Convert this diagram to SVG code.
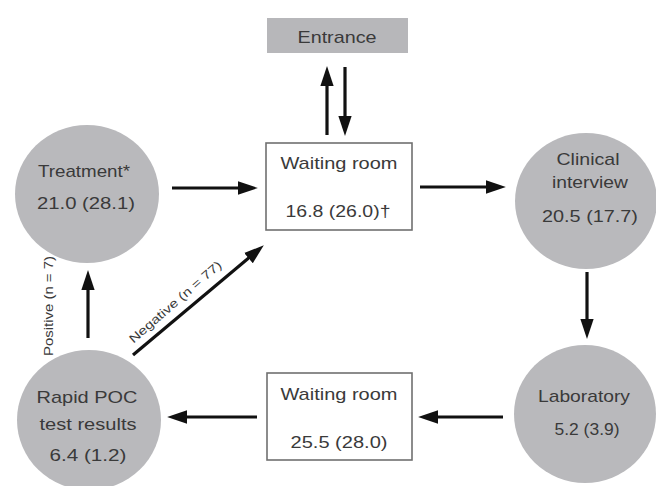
<svg xmlns="http://www.w3.org/2000/svg" width="656" height="486" viewBox="0 0 656 486">
<style>
.node-c{fill:#b9b9bc;stroke:none}
.box{fill:#ffffff;stroke:#707070;stroke-width:1.6}
.ent{fill:#b7b7ba;stroke:none}
.t{font-family:"Liberation Sans",Arial,sans-serif;font-size:17px;fill:#3a3a3a;text-anchor:middle}
.lbl{font-family:"Liberation Sans",Arial,sans-serif;font-size:12px;fill:#3a3a3a;text-anchor:middle}
.arr{stroke:#111;stroke-width:3.2;fill:none;marker-end:url(#ah)}
</style>
<defs>
<marker id="ah" markerUnits="userSpaceOnUse" markerWidth="20" markerHeight="14" viewBox="0 0 18 12" refX="10" refY="6" orient="auto">
<path d="M0,0 L18,6 L0,12 z" fill="#111"/>
</marker>
</defs>
<rect width="656" height="486" fill="#ffffff"/>

<g id="labels">
<text class="lbl" transform="translate(53,306) rotate(-90)" textLength="100" lengthAdjust="spacingAndGlyphs">Positive (n = 7)</text>
<text class="lbl" transform="translate(178,305) rotate(-41)" textLength="118" lengthAdjust="spacingAndGlyphs">Negative (n = 77)</text>
</g>

<g id="entrance">
<rect class="ent" x="267" y="18" width="141" height="35"/>
<text class="t" x="337" y="43" textLength="79" lengthAdjust="spacingAndGlyphs">Entrance</text>
</g>

<g id="waiting-room-1">
<rect class="box" x="266" y="143" width="146" height="87"/>
<text class="t" x="339" y="169" textLength="117" lengthAdjust="spacingAndGlyphs">Waiting room</text>
<text class="t" x="338" y="217" textLength="105" lengthAdjust="spacingAndGlyphs">16.8 (26.0)†</text>
</g>

<g id="treatment">
<ellipse class="node-c" cx="87" cy="194" rx="72" ry="69"/>
<text class="t" x="84" y="177" textLength="92" lengthAdjust="spacingAndGlyphs">Treatment*</text>
<text class="t" x="86" y="209" textLength="98" lengthAdjust="spacingAndGlyphs">21.0 (28.1)</text>
</g>

<g id="clinical-interview">
<ellipse class="node-c" cx="586" cy="201" rx="71" ry="68"/>
<text class="t" x="588" y="165" textLength="63" lengthAdjust="spacingAndGlyphs">Clinical</text>
<text class="t" x="590" y="188" textLength="76" lengthAdjust="spacingAndGlyphs">interview</text>
<text class="t" x="590" y="222" textLength="96" lengthAdjust="spacingAndGlyphs">20.5 (17.7)</text>
</g>

<g id="laboratory">
<ellipse class="node-c" cx="585" cy="414" rx="71" ry="69"/>
<text class="t" x="584" y="402" textLength="92" lengthAdjust="spacingAndGlyphs">Laboratory</text>
<text class="t" x="587" y="435" textLength="65" lengthAdjust="spacingAndGlyphs">5.2 (3.9)</text>
</g>

<g id="waiting-room-2">
<rect class="box" x="267" y="373" width="145" height="87"/>
<text class="t" x="339" y="400" textLength="117" lengthAdjust="spacingAndGlyphs">Waiting room</text>
<text class="t" x="339" y="448" textLength="97" lengthAdjust="spacingAndGlyphs">25.5 (28.0)</text>
</g>

<g id="rapid-poc">
<ellipse class="node-c" cx="89" cy="420" rx="72" ry="70"/>
<text class="t" x="87" y="403" textLength="101" lengthAdjust="spacingAndGlyphs">Rapid POC</text>
<text class="t" x="88" y="430" textLength="97" lengthAdjust="spacingAndGlyphs">test results</text>
<text class="t" x="88" y="461" textLength="77" lengthAdjust="spacingAndGlyphs">6.4 (1.2)</text>
</g>

<g id="connectors">
<line class="arr" x1="172" y1="188" x2="249" y2="188"/>
<line class="arr" x1="420" y1="187" x2="497" y2="187"/>
<line class="arr" x1="587" y1="272" x2="587" y2="330"/>
<line class="arr" x1="503" y1="417" x2="427" y2="417"/>
<line class="arr" x1="257" y1="417" x2="176" y2="417"/>
<line class="arr" x1="88" y1="338" x2="88" y2="279"/>
<line class="arr" x1="133" y1="355" x2="257" y2="251"/>
<line class="arr" x1="327" y1="135" x2="327" y2="75"/>
<line class="arr" x1="345" y1="67" x2="345" y2="127"/>
</g>
</svg>
